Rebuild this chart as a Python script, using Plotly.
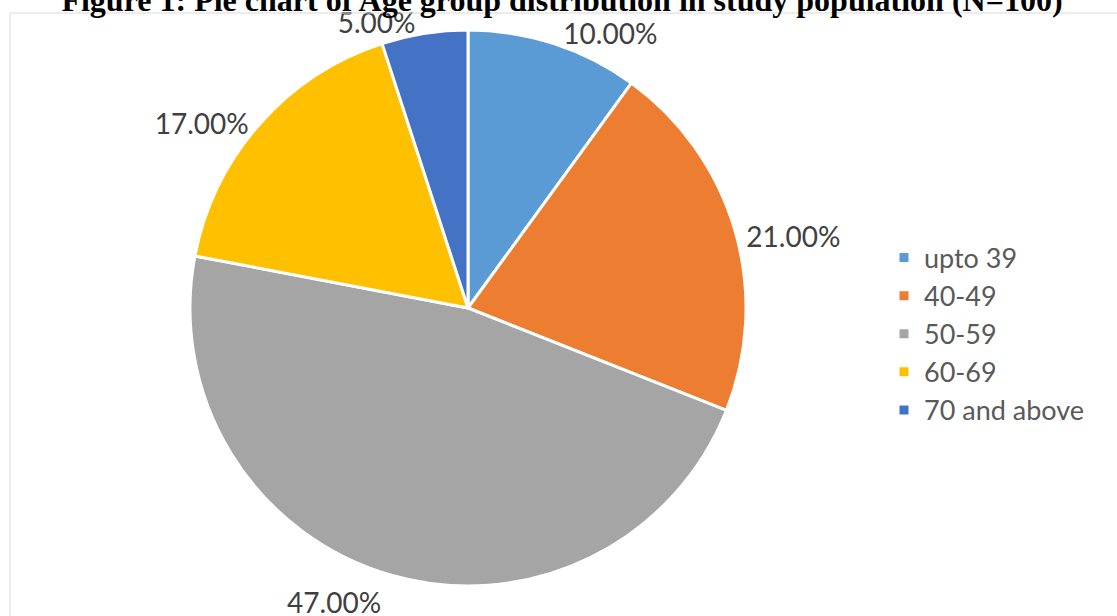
import plotly.graph_objects as go

categories = ["upto 39", "40-49", "50-59", "60-69", "70 and above"]
values = [10, 21, 47, 17, 5]
colors = ["#5B9BD5", "#ED7D31", "#A5A5A5", "#FFC000", "#4472C4"]
title_text = "Figure 1: Pie chart of Age group distribution in study population (N=100)"

W, H = 1117, 616


def dom(cx, cy, r):
    return dict(x=[(cx - r) / W, (cx + r) / W], y=[(H - cy - r) / H, (H - cy + r) / H])


# visible pie
fig = go.Figure(go.Pie(
    labels=categories,
    values=values,
    sort=False,
    direction="clockwise",
    rotation=0,
    marker=dict(colors=colors, line=dict(color="white", width=3)),
    textinfo="none",
    textposition="none",
    domain=dom(468, 308, 278),
    hoverinfo="label+percent",
))

# transparent twin pie that carries the percentage labels outside
fig.add_trace(go.Pie(
    labels=categories,
    values=values,
    sort=False,
    direction="clockwise",
    rotation=0,
    marker=dict(colors=["rgba(0,0,0,0)"] * len(values), line=dict(width=0)),
    texttemplate="%{percent:.2%}",
    textposition="outside",
    textfont=dict(family="Lato", size=28, color="#404040"),
    domain=dom(468, 316, 281),
    hoverinfo="skip",
    showlegend=False,
))

fig.update_layout(
    width=W, height=H,
    margin=dict(l=0, r=0, t=0, b=0, autoexpand=False),
    paper_bgcolor="white",
    showlegend=True,
    title=dict(text="<b>" + title_text + "</b>", x=562 / W, xanchor="center",
               xref="container", yref="container", y=1, yanchor="middle",
               font=dict(family="Liberation Serif", size=32, color="black")),
    legend=dict(
        x=884 / W, y=(H - 334) / H, xanchor="left", yanchor="middle",
        font=dict(family="Lato", size=27, color="#595959"),
        itemwidth=30, tracegroupgap=0,
    ),
    shapes=[dict(type="rect", xref="paper", yref="paper",
                 x0=10 / W, x1=1.02, y0=-0.02, y1=(H - 13) / H,
                 line=dict(color="#D9D9D9", width=1))],
)

fig.write_html(
    "out.html",
    config={"displayModeBar": False},
    post_script="document.body.style.margin='0';document.documentElement.style.overflow='hidden';",
)
